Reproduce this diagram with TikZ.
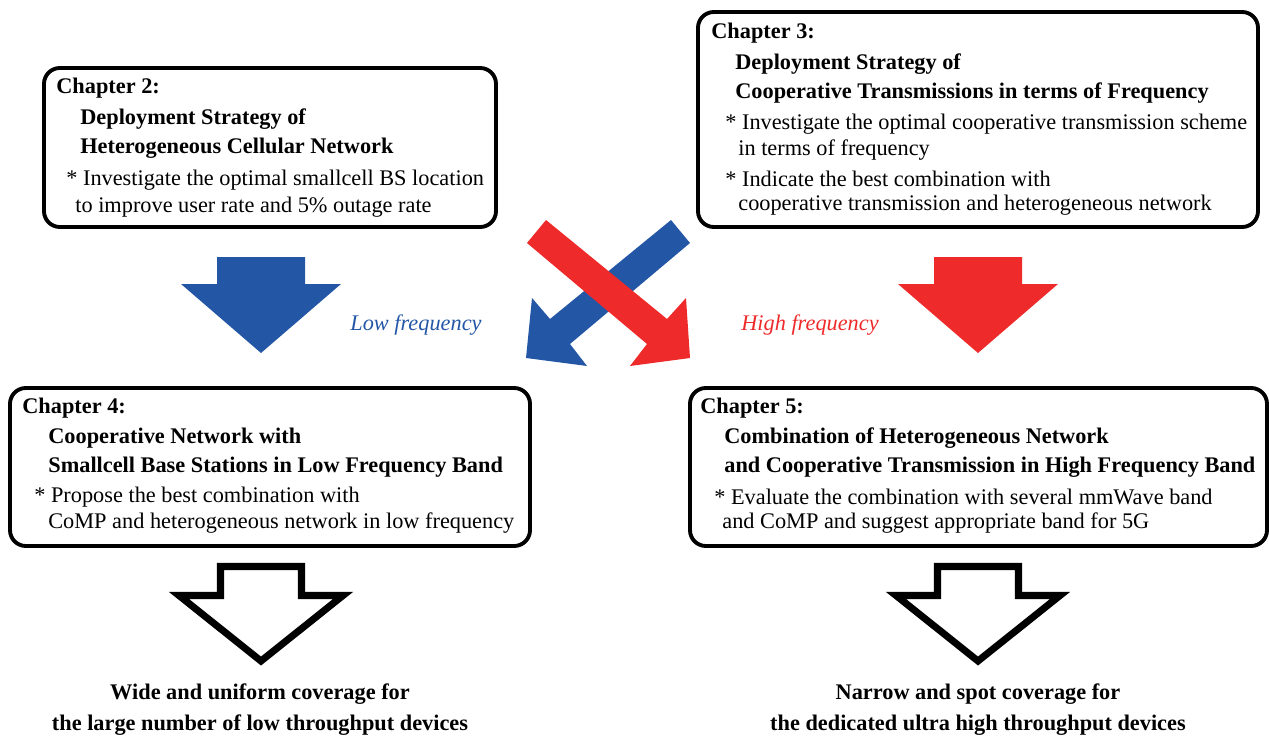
\documentclass[tikz,border=0pt]{standalone}
\usepackage{fontspec}
\setmainfont{Liberation Serif}
\definecolor{lowblue}{RGB}{35,87,166}
\definecolor{highred}{RGB}{238,42,42}
\tikzset{
    chapbox/.style={draw=black, line width=2.2pt, rounded corners=9pt},
    line/.style={anchor=west, inner sep=0pt, font=\fontsize{12.7}{15}\selectfont},
    head/.style={line, font=\fontsize{12.7}{15}\selectfont\bfseries},
    freq/.style={inner sep=0pt, font=\fontsize{12.7}{15}\selectfont\itshape},
    result/.style={inner sep=0pt, font=\fontsize{12.7}{15}\selectfont\bfseries}
}

\begin{document}
\begin{tikzpicture}[x=0.02cm, y=-0.02cm]
\useasboundingbox (0,0) rectangle (1269,740);

% chapter boxes
\draw [chapbox] (44,68) rectangle (496,227);
\draw [chapbox] (698,12) rectangle (1258,227);
\draw [chapbox] (10,388) rectangle (530,546);
\draw [chapbox] (690,388) rectangle (1267,546);

% chapter 2
\node[head] (c2h) at (56,88) {Chapter 2:};
\node[head] (c2t1) at (80,119) {Deployment Strategy of};
\node[head] (c2t2) at (80,148) {Heterogeneous Cellular Network};
\node[line] (c2b1) at (66,180) {* Investigate the optimal smallcell BS location};
\node[line] (c2b2) at (75,207) {to improve user rate and 5\% outage rate};

% chapter 3
\node[head] (c3h) at (711,33) {Chapter 3:};
\node[head] (c3t1) at (735,64) {Deployment Strategy of};
\node[head] (c3t2) at (735,93) {Cooperative Transmissions in terms of Frequency};
\node[line] (c3b1) at (725,124) {* Investigate the optimal cooperative transmission scheme};
\node[line] (c3b2) at (738,150) {in terms of frequency};
\node[line] (c3b3) at (725,179) {* Indicate the best combination with};
\node[line] (c3b4) at (738,205) {cooperative transmission and heterogeneous network};

% chapter 4
\node[head] (c4h) at (22,408) {Chapter 4:};
\node[head] (c4t1) at (48,438) {Cooperative Network with};
\node[head] (c4t2) at (48,467) {Smallcell Base Stations in Low Frequency Band};
\node[line] (c4b1) at (34,497) {* Propose the best combination with};
\node[line] (c4b2) at (48,523) {CoMP and heterogeneous network in low frequency};

% chapter 5
\node[head] (c5h) at (700,408) {Chapter 5:};
\node[head] (c5t1) at (724,438) {Combination of Heterogeneous Network};
\node[head] (c5t2) at (724,467) {and Cooperative Transmission in High Frequency Band};
\node[line] (c5b1) at (714,497) {* Evaluate the combination with several mmWave band};
\node[line] (c5b2) at (722,523) {and CoMP and suggest appropriate band for 5G};

% straight block arrows
\foreach \cx/\col in {261/lowblue, 978/highred}{
    \fill[\col] (\cx-44,257) -- (\cx+44,257) -- (\cx+44,284) -- (\cx+80,284)
        -- (\cx,353) -- (\cx-80,284) -- (\cx-44,284) -- cycle;
}

% crossing arrows
\fill[lowblue] (671,220) -- (690,243) -- (570,344) -- (587,366) -- (526,358)
    -- (532,298) -- (550,319) -- cycle;
\fill[highred] (546,220) -- (527,243) -- (647,344) -- (630,366) -- (690,358)
    -- (686,298) -- (667,319) -- cycle;

\node[freq, text=lowblue] (low) at (416,325) {Low frequency};
\node[freq, text=highred] (high) at (810,325) {High frequency};

% outline arrows
\foreach \cx in {261, 978}{
    \draw[line width=4pt, miter limit=10] (\cx-40.5,566.5) -- (\cx+40.5,566.5)
        -- (\cx+40.5,595.5) -- (\cx+82,595.5) -- (\cx,661) -- (\cx-82,595.5)
        -- (\cx-40.5,595.5) -- cycle;
}

% results
\node[result] (res1a) at (260,694) {Wide and uniform coverage for};
\node[result] (res1b) at (260,725) {the large number of low throughput devices};
\node[result] (res2a) at (978,694) {Narrow and spot coverage for};
\node[result] (res2b) at (978,725) {the dedicated ultra high throughput devices};
\end{tikzpicture}
\end{document}
